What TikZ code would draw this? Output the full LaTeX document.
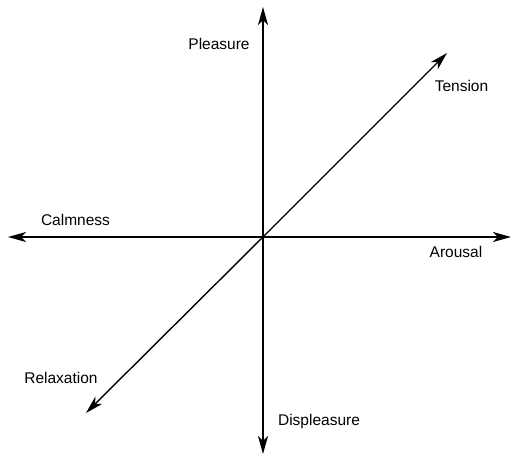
\documentclass[tikz,border=0pt]{standalone}
\usepackage{fontspec}
\setmainfont{Liberation Sans}
\usetikzlibrary{arrows.meta}
\begin{document}
\begin{tikzpicture}[x=1pt,y=-1pt,
  axis/.style={line width=1.4pt,-{Stealth[length=18pt,width=10pt,inset=5pt]}},
  lbl/.style={font=\fontsize{15.5}{18}\selectfont,inner sep=0pt}]
\useasboundingbox (0,0) rectangle (514,457);
\coordinate (C) at (263,237);
\coordinate (N) at (263,7);
\coordinate (S) at (263,454);
\coordinate (W) at (8,237);
\coordinate (E) at (511,237);
\coordinate (NE) at (447,53);
\coordinate (SW) at (86,413);
\draw[axis] (C) -- (N);
\draw[axis] (C) -- (S);
\draw[axis] (C) -- (W);
\draw[axis] (C) -- (E);
\draw[axis] (C) -- (NE);
\draw[axis] (C) -- (SW);
\node[lbl] (pl) at (219,44) {Pleasure};
\node[lbl] (dp) at (319,421) {Displeasure};
\node[lbl] (cm) at (75.5,220) {Calmness};
\node[lbl] (ar) at (456,252) {Arousal};
\node[lbl] (te) at (461.5,86) {Tension};
\node[lbl] (rx) at (61,378) {Relaxation};
\end{tikzpicture}
\end{document}
